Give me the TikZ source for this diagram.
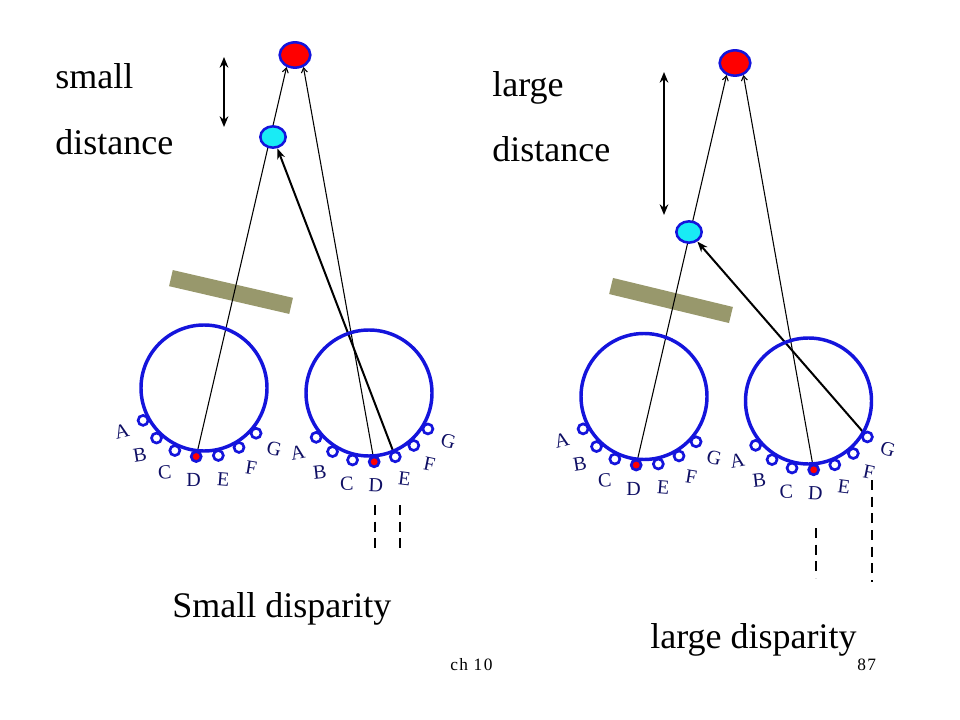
\documentclass[tikz,border=0pt]{standalone}
\usepackage{fontspec}
\setmainfont{Liberation Serif}
\newfontfamily\spacedfont[LetterSpace=8]{Liberation Serif}
\usetikzlibrary{arrows.meta,shapes.geometric,backgrounds}
\definecolor{eyeblue}{RGB}{20,20,220}
\definecolor{labnavy}{RGB}{15,15,100}
\definecolor{barolive}{RGB}{152,152,108}
\definecolor{cyanfill}{RGB}{25,235,245}
\begin{document}
\begin{tikzpicture}[x=0.75pt,y=-0.75pt,
  eye/.style={circle, draw=eyeblue, line width=2.6pt, minimum size=94.5pt, inner sep=0pt},
  rec/.style={circle, draw=eyeblue, line width=2pt, fill=white, minimum size=7.5pt, inner sep=0pt},
  recD/.style={fill=red},
  lab/.style={text=labnavy, font=\fontsize{15}{16}\selectfont, inner sep=0pt},
  redobj/.style={ellipse, draw=eyeblue, line width=1.9pt, fill=red, minimum width=23pt, minimum height=19pt, inner sep=0pt},
  cyanobj/.style={ellipse, draw=eyeblue, line width=1.9pt, fill=cyanfill, minimum width=19pt, minimum height=16pt, inner sep=0pt},
  bar/.style={fill=barolive, minimum width=92.5pt, minimum height=12.4pt, inner sep=0pt},
  ray/.style={line width=0.8pt, -{Straight Barb[length=3.5pt,width=4.5pt]}},
  mainray/.style={line width=1.5pt, -{Stealth[length=8pt,width=6pt]}},
  dist/.style={line width=1.8pt, {Stealth[length=8pt,width=6.5pt]}-{Stealth[length=8pt,width=6.5pt]}},
  proj/.style={line width=2.2pt, dash pattern=on 7.5pt off 5pt},
  big/.style={font=\fontsize{27}{32}\selectfont, anchor=base west, inner sep=0pt},
  pagenum/.style={font=\spacedfont\fontsize{13}{15}\selectfont, anchor=base west, inner sep=0pt}
]
\useasboundingbox (0,0) rectangle (960,720);

% eyes with receptors and labels
\foreach \e/\cx/\cy/\sa/\st in {1/204/388/152/18.5, 2/369/393/140/18.1, 3/644/396.5/152/18.5, 4/808.5/401/140/18.1} {
  \node[eye] (eye\e) at (\cx,\cy) {};
  \foreach \l [count=\i from 0] in {A,B,C,D,E,F,G} {
    \pgfmathsetmacro\ang{\sa-\st*\i}
    \pgfmathsetmacro\rot{(\ang-96)*0.25}
    \path (eye\e.center) ++(\ang:69) node[rec, rec\l/.try] (r\e\l) {};
    \path (eye\e.center) ++(\ang:93) node[lab, rotate=\rot] (t\e\l) {\l};
  }
}

% objects
\node[redobj] (red1) at (295,55) {};
\node[cyanobj] (cyan1) at (273,137) {};
\node[redobj] (red2) at (735,63) {};
\node[cyanobj] (cyan2) at (689,232) {};

% distance arrows
\coordinate (da1) at (224,57);
\coordinate (db1) at (224,127);
\coordinate (da2) at (664,72);
\coordinate (db2) at (664,215);
\draw[dist] (da1) -- (db1);
\draw[dist] (da2) -- (db2);

% texts
\node[big] (sm) at (55,89) {small};
\node[big] (sd) at (55,155) {distance};
\node[big] (lg) at (492,97) {large};
\node[big] (ld) at (492,162) {distance};
\node[big] (sdisp) at (172,617) {Small disparity};
\node[big] (ldisp) at (650,648) {large disparity};
\node[pagenum] (ch) at (450,670) {ch 10};
\node[pagenum] (pg) at (857,670) {87};

% dashed projections
\coordinate (pa1) at (375,505); \coordinate (pb1) at (375,555);
\coordinate (pa2) at (400,505); \coordinate (pb2) at (400,555);
\coordinate (pa3) at (816,528); \coordinate (pb3) at (816,578);
\coordinate (pa4) at (872,480); \coordinate (pb4) at (872,582);
\draw[proj] (pa1) -- (pb1);
\draw[proj] (pa2) -- (pb2);
\draw[proj] (pa3) -- (pb3);
\draw[proj] (pa4) -- (pb4);

\begin{scope}[on background layer]
  \node[bar, rotate=-13] (bar1) at (231,292) {};
  \node[bar, rotate=-13.6] (bar2) at (671,300.5) {};
  \draw[ray] (r1D) -- (red1.235);
  \draw[ray] (r2D) -- (red1.305);
  \draw[mainray] (r2E) -- (cyan1);
  \draw[ray] (r3D) -- (red2.235);
  \draw[ray] (r4D) -- (red2.305);
  \draw[mainray] (r4G) -- (cyan2);
\end{scope}
\end{tikzpicture}
\end{document}
